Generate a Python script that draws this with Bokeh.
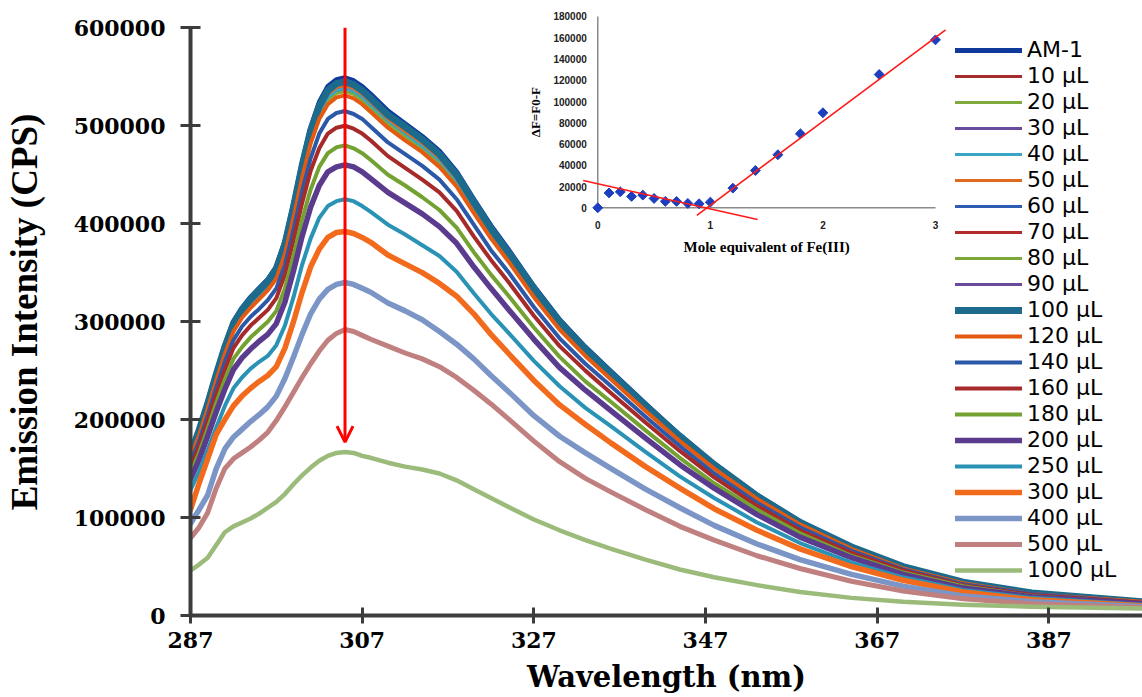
import math
from bokeh.plotting import figure
from bokeh.models import (ColumnDataSource, Range1d, FixedTicker, Legend, LegendItem,
                          Arrow, OpenHead, NumeralTickFormatter)
from bokeh.core.properties import value
from bokeh.embed import file_html
from bokeh.resources import INLINE

# ---------------- data (emission spectra, intensity in thousands of CPS) ----------------
wavelength = [287, 288, 289, 290, 291, 292, 293, 294, 295, 296, 297, 298, 299, 300, 301, 302,
              303, 304, 305, 306, 307, 308, 310, 312, 314, 316, 318, 320, 322, 324, 327, 330,
              333, 336, 340, 344, 348, 353, 358, 364, 370, 377, 385, 398]

labels = ["AM-1", "10 µL", "20 µL", "30 µL", "40 µL", "50 µL", "60 µL", "70 µL", "80 µL",
          "90 µL", "100 µL", "120 µL", "140 µL", "160 µL", "180 µL", "200 µL", "250 µL",
          "300 µL", "400 µL", "500 µL", "1000 µL"]

am1 = [166, 190, 218, 248, 276, 300, 314, 325, 334, 343, 356, 382, 420, 462, 498, 524, 540, 547, 549, 546, 540, 532, 515, 502, 489, 474, 453, 425, 398, 374, 336, 302, 274, 249, 216, 184, 155, 123, 96, 70, 50, 34, 23, 14]
ul10 = [162, 185, 213, 242, 269, 293, 306, 317, 326, 335, 347, 373, 410, 451, 486, 511, 527, 534, 536, 533, 527, 519, 503, 490, 477, 463, 442, 415, 388, 365, 328, 295, 267, 243, 211, 180, 151, 120, 94, 68, 49, 33, 22, 14]
ul20 = [162, 185, 212, 242, 269, 292, 306, 317, 325, 334, 347, 372, 409, 450, 485, 510, 526, 533, 535, 532, 526, 518, 502, 489, 476, 462, 441, 414, 388, 364, 327, 294, 267, 243, 210, 179, 151, 120, 94, 68, 49, 33, 22, 14]
ul30 = [163, 187, 214, 244, 271, 295, 308, 319, 328, 337, 350, 375, 412, 454, 489, 515, 530, 537, 539, 536, 530, 522, 506, 493, 480, 465, 445, 417, 391, 367, 330, 297, 269, 245, 212, 181, 152, 121, 94, 69, 49, 33, 23, 14]
ul40 = [163, 186, 214, 243, 270, 294, 308, 319, 327, 336, 349, 374, 412, 453, 488, 514, 529, 536, 538, 535, 529, 521, 505, 492, 479, 465, 444, 417, 390, 367, 329, 296, 269, 244, 212, 180, 152, 121, 94, 69, 49, 33, 23, 14]
ul50 = [164, 187, 215, 244, 272, 296, 309, 320, 329, 338, 351, 376, 414, 455, 491, 516, 532, 539, 541, 538, 532, 524, 507, 494, 482, 467, 446, 419, 392, 368, 331, 297, 270, 245, 213, 181, 153, 121, 95, 69, 49, 33, 23, 14]
ul60 = [165, 188, 216, 246, 274, 297, 311, 322, 331, 340, 353, 379, 416, 458, 494, 519, 535, 542, 544, 541, 535, 527, 510, 497, 485, 470, 449, 421, 394, 371, 333, 299, 272, 247, 214, 182, 154, 122, 95, 69, 50, 34, 23, 14]
ul70 = [164, 189, 216, 245, 273, 298, 312, 322, 331, 340, 352, 378, 417, 457, 493, 520, 535, 542, 544, 541, 536, 528, 511, 498, 484, 469, 449, 422, 395, 370, 333, 300, 271, 247, 214, 183, 153, 122, 95, 69, 50, 34, 23, 14]
ul80 = [165, 189, 217, 247, 275, 299, 312, 323, 332, 341, 354, 380, 418, 460, 496, 521, 537, 544, 546, 543, 537, 529, 512, 499, 487, 472, 451, 423, 396, 372, 334, 300, 273, 248, 215, 183, 154, 122, 96, 70, 50, 34, 23, 14]
ul90 = [166, 189, 217, 246, 275, 298, 313, 324, 333, 342, 355, 380, 417, 459, 497, 522, 538, 545, 546, 544, 538, 530, 513, 501, 486, 471, 451, 423, 397, 372, 335, 300, 272, 248, 215, 183, 154, 122, 96, 70, 50, 34, 23, 14]
ul100 = [165, 189, 216, 246, 274, 298, 312, 323, 332, 341, 354, 379, 417, 459, 495, 520, 536, 543, 545, 542, 536, 528, 511, 499, 486, 471, 450, 422, 395, 371, 334, 300, 272, 247, 214, 183, 154, 122, 95, 70, 50, 34, 23, 14]
ul120 = [161, 184, 211, 240, 267, 290, 304, 314, 323, 332, 344, 369, 406, 447, 482, 507, 522, 529, 531, 528, 522, 514, 498, 485, 473, 458, 438, 411, 385, 362, 325, 292, 265, 241, 209, 178, 150, 119, 93, 68, 48, 33, 22, 14]
ul140 = [156, 178, 204, 233, 259, 281, 295, 305, 313, 322, 334, 358, 394, 433, 467, 492, 507, 513, 515, 512, 507, 499, 483, 471, 459, 445, 425, 399, 373, 351, 315, 283, 257, 234, 203, 173, 145, 115, 90, 66, 47, 32, 22, 13]
ul160 = [151, 173, 199, 226, 251, 273, 286, 296, 304, 312, 324, 348, 383, 421, 454, 477, 492, 498, 500, 497, 492, 485, 469, 457, 445, 432, 413, 387, 363, 341, 306, 275, 250, 227, 197, 168, 141, 112, 87, 64, 46, 31, 21, 13]
ul180 = [145, 166, 191, 217, 241, 262, 274, 284, 292, 300, 311, 334, 367, 404, 435, 458, 472, 478, 480, 477, 472, 465, 450, 439, 427, 414, 396, 371, 348, 327, 294, 264, 239, 218, 189, 161, 135, 108, 84, 61, 44, 30, 20, 12]
ul200 = [139, 159, 183, 208, 231, 251, 263, 272, 280, 287, 298, 320, 352, 387, 417, 439, 453, 458, 460, 458, 453, 446, 432, 421, 410, 397, 380, 356, 334, 313, 282, 253, 230, 209, 181, 154, 130, 103, 80, 59, 42, 28, 19, 12]
ul250 = [128, 147, 169, 192, 214, 232, 243, 252, 259, 265, 276, 296, 325, 358, 385, 406, 418, 423, 425, 423, 418, 412, 399, 389, 378, 367, 351, 329, 308, 289, 260, 234, 212, 193, 167, 142, 120, 95, 74, 54, 39, 26, 18, 11]
ul300 = [108, 135, 160, 185, 200, 214, 224, 232, 239, 245, 254, 273, 300, 330, 356, 374, 386, 391, 392, 390, 386, 381, 368, 359, 350, 339, 326, 308, 287, 268, 240, 215, 195, 176, 152, 130, 109, 87, 68, 50, 36, 24, 16, 10]
ul400 = [94, 108, 123, 150, 170, 182, 190, 198, 205, 213, 224, 242, 264, 287, 308, 323, 333, 338, 340, 338, 334, 330, 319, 311, 302, 290, 277, 262, 245, 229, 204, 183, 166, 150, 129, 110, 92, 73, 57, 42, 30, 20, 14, 9]
ul500 = [79, 90, 105, 130, 150, 160, 166, 172, 179, 187, 199, 213, 228, 243, 257, 270, 281, 288, 292, 290, 286, 282, 275, 268, 262, 254, 243, 230, 216, 201, 178, 157, 140, 126, 108, 91, 77, 61, 48, 35, 25, 17, 12, 8]
ul1000 = [46, 52, 59, 72, 85, 91, 95, 99, 104, 110, 116, 124, 134, 143, 151, 158, 163, 166, 167, 166, 163, 161, 156, 152, 149, 145, 138, 129, 120, 111, 98, 87, 77, 68, 57, 47, 39, 31, 24, 18, 14, 11, 9, 7]

series = [am1, ul10, ul20, ul30, ul40, ul50, ul60, ul70, ul80, ul90, ul100, ul120, ul140,
          ul160, ul180, ul200, ul250, ul300, ul400, ul500, ul1000]

x_ticks = [287, 307, 327, 347, 367, 387]
y_ticks = [0, 100000, 200000, 300000, 400000, 500000, 600000]

# quenching arrow (wavelength, start/end intensity)
arrow_x = 305
arrow_y = [600000, 177000]

# inset: fluorescence change vs mole equivalent of Fe(III)
inset_eq = [0, 0.1, 0.2, 0.3, 0.4, 0.5, 0.6, 0.7, 0.8, 0.9, 1.0, 1.2, 1.4, 1.6, 1.8, 2.0, 2.5, 3.0]
inset_dF = [0, 14000, 15000, 10700, 11900, 8800, 6000, 6000, 4100, 3800, 5300, 18500, 35100,
            49900, 69600, 89400, 125400, 158000]
fit1_x = [-0.13, 1.42]
fit1_y = [25700, -11000]
fit2_x = [0.88, 3.09]
fit2_y = [-7200, 167400]
inset_x_ticks = [0, 1, 2, 3]
inset_y_ticks = [0, 20000, 40000, 60000, 80000, 100000, 120000, 140000, 160000, 180000]

# ---------------- styles ----------------
colors = ["#0f3a9c", "#a62c2c", "#7fab3c", "#6a4a9e", "#3aa4c4", "#e06a1e", "#2d5cb0",
          "#b32b2b", "#7ca83a", "#6a4b9b", "#1c6a8c", "#e35a10", "#2c58a8", "#a72a2a",
          "#73a232", "#5b3b8e", "#2a93b5", "#f26b1d", "#7b96c6", "#c08080", "#9bbb7a"]
widths = [5, 3, 3, 3, 3, 3, 3, 3, 3, 3, 7, 4, 4, 4, 4, 5.5, 4, 5.5, 5.5, 5, 4.5]

p = figure(width=1142, height=697, x_range=Range1d(287, 397.9), y_range=Range1d(0, 619700),
           output_backend="svg", toolbar_location=None,
           min_border_left=190, min_border_right=0, min_border_top=8, min_border_bottom=82)
p.outline_line_color = None
p.grid.visible = False
p.background_fill_color = "white"
p.border_fill_color = "white"

axis_col = "#3c3c3c"
for ax in (p.xaxis[0], p.yaxis[0]):
    ax.axis_line_width = 4
    ax.axis_line_color = axis_col
    ax.major_tick_line_width = 3
    ax.major_tick_line_color = axis_col
    ax.minor_tick_line_color = None
    ax.major_label_text_color = "black"
    ax.major_label_text_font = "DejaVu Serif"
    ax.major_label_text_font_style = "bold"
    ax.axis_label_text_color = "black"
    ax.axis_label_text_font_style = "bold"

p.xaxis.ticker = FixedTicker(ticks=x_ticks)
p.xaxis.major_tick_in = 8
p.xaxis.major_tick_out = 8
p.xaxis.major_label_text_font_size = "22px"
p.xaxis.major_label_standoff = 8
p.xaxis.axis_label = "Wavelength (nm)"
p.xaxis.axis_label_text_font = "DejaVu Serif"
p.xaxis.axis_label_text_font_size = "29px"
p.xaxis.axis_label_standoff = 9

p.yaxis.ticker = FixedTicker(ticks=y_ticks)
p.yaxis.formatter = NumeralTickFormatter(format="0")
p.yaxis.bounds = (0, 600000)
p.yaxis.major_tick_in = 10
p.yaxis.major_tick_out = 10
p.yaxis.major_label_text_font_size = "22px"
p.yaxis.major_label_standoff = 15
p.yaxis.axis_label = "Emission Intensity (CPS)"
p.yaxis.axis_label_text_font = "Liberation Serif"
p.yaxis.axis_label_text_font_size = "37px"
p.yaxis.axis_label_standoff = 26

# ---------------- spectra ----------------
renderers = []
for lab, vals, col, lw in zip(labels, series, colors, widths):
    src = ColumnDataSource(dict(x=wavelength, y=[v * 1000 for v in vals]))
    r = p.line("x", "y", source=src, line_color=col, line_width=lw,
               line_join="round", line_cap="round")
    renderers.append(r)

legend = Legend(items=[LegendItem(label=l, renderers=[r]) for l, r in zip(labels, renderers)],
                location=(765, 33), padding=0, margin=0, spacing=1,
                glyph_width=67, glyph_height=20, label_height=20, label_standoff=5,
                label_text_font="DejaVu Sans", label_text_font_size="22px",
                label_text_color="black", border_line_color=None, background_fill_alpha=0)
p.add_layout(legend)

p.add_layout(Arrow(end=OpenHead(line_color="red", line_width=3, size=16),
                   x_start=arrow_x, y_start=arrow_y[0], x_end=arrow_x, y_end=arrow_y[1],
                   line_color="red", line_width=3))

# ---------------- inset (own scales inside the main frame) ----------------
p.extra_x_ranges = {"ix": Range1d(-3.618, 4.839)}
p.extra_y_ranges = {"iy": Range1d(-383600, 187500)}
kw = dict(x_range_name="ix", y_range_name="iy")
inset_axis_col = "#8a8a8a"
p.line(x=[inset_x_ticks[0], inset_x_ticks[-1]], y=[0, 0], line_color=inset_axis_col, line_width=1.5, **kw)
p.line(x=[0, 0], y=[inset_y_ticks[0], inset_y_ticks[-1]], line_color=inset_axis_col, line_width=1.5, **kw)

p.text(x=[0] * len(inset_y_ticks), y=inset_y_ticks, text=[str(t) for t in inset_y_ticks],
       x_offset=-11, text_align="right", text_baseline="middle",
       text_font=value("Liberation Sans"), text_font_style="bold", text_font_size="10px",
       text_color="#222222", **kw)
p.text(x=inset_x_ticks, y=[0] * len(inset_x_ticks), text=[str(t) for t in inset_x_ticks],
       y_offset=17, text_align="center", text_baseline="middle",
       text_font=value("Liberation Sans"), text_font_style="bold", text_font_size="10px",
       text_color="#222222", **kw)
p.text(x=[(inset_x_ticks[0] + inset_x_ticks[-1]) / 2], y=[0], text=["Mole equivalent of Fe(III)"],
       y_offset=39, text_align="center", text_baseline="middle",
       text_font=value("Liberation Serif"), text_font_style="bold", text_font_size="15px",
       text_color="black", **kw)
p.text(x=[0], y=[(inset_y_ticks[0] + inset_y_ticks[-1]) / 2], text=["ΔF=F0-F"],
       x_offset=-62, angle=math.pi / 2, text_align="center", text_baseline="middle",
       text_font=value("Liberation Serif"), text_font_style="bold", text_font_size="13px",
       text_color="black", **kw)

p.scatter(x=inset_eq, y=inset_dF, marker="square", size=7, angle=math.pi / 4,
          fill_color="#1d3fbf", line_color="#1d3fbf", **kw)
p.line(x=fit1_x, y=fit1_y, line_color="#ff1a1a", line_width=1.6, **kw)
p.line(x=fit2_x, y=fit2_y, line_color="#ff1a1a", line_width=1.6, **kw)

open("out.html", "w").write(file_html(p, INLINE))
